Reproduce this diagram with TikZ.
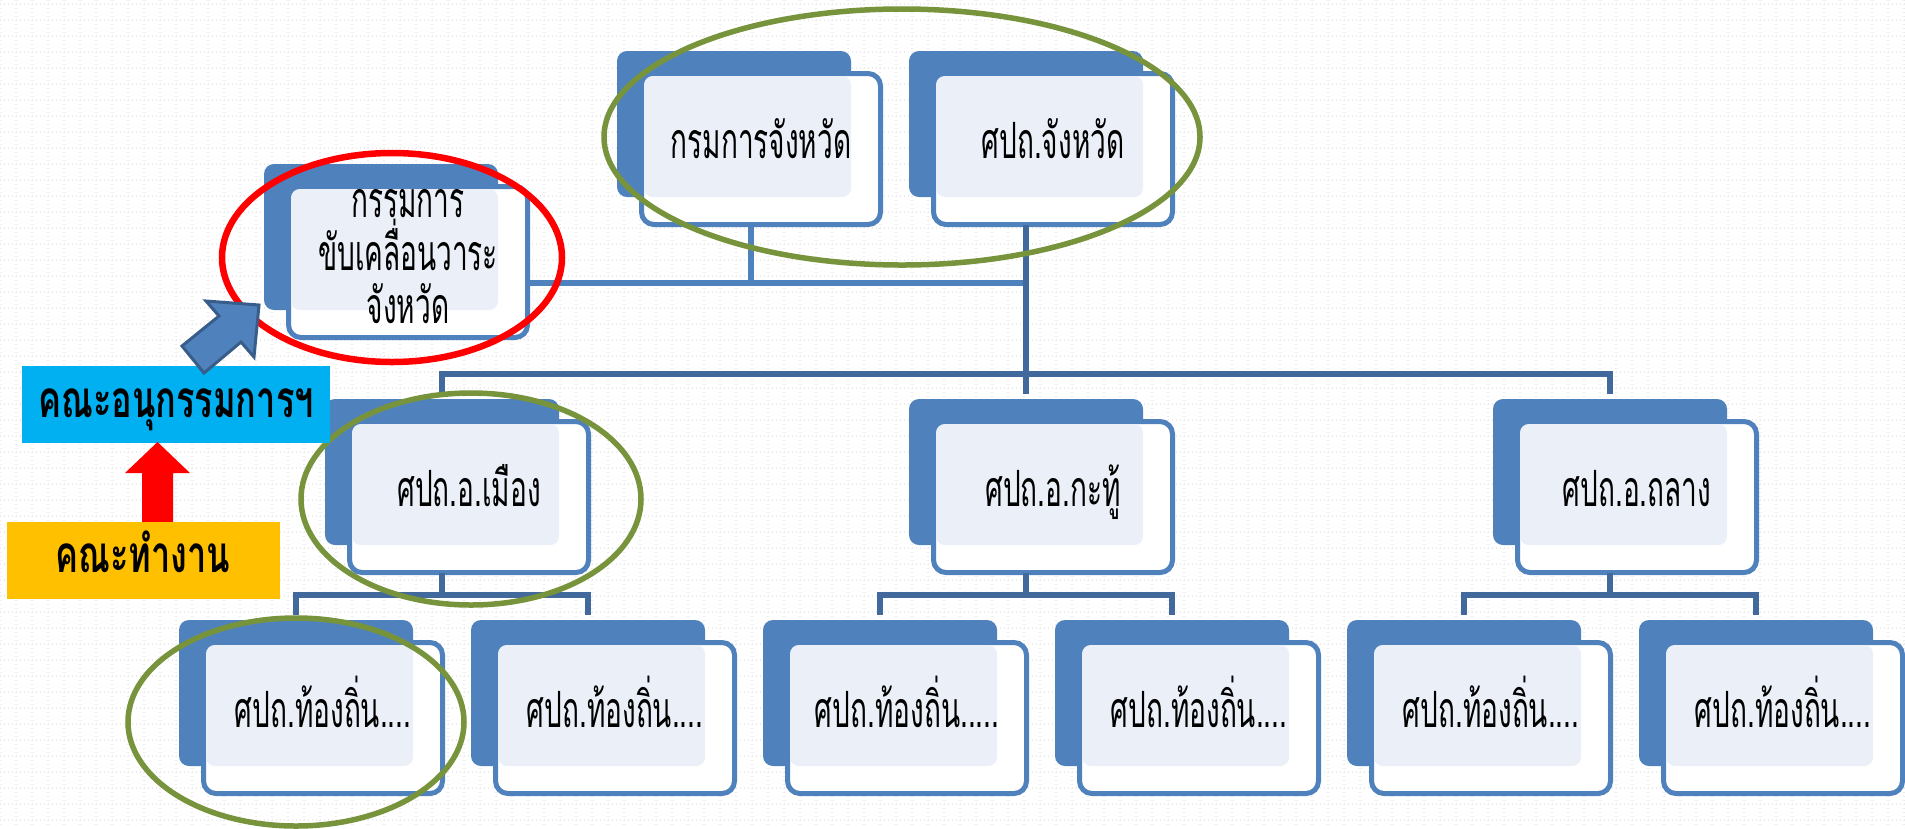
\documentclass[tikz,border=0pt]{standalone}
\usepackage{fontspec}
\usetikzlibrary{calc}
\newfontfamily\thai[Script=Thai,FakeStretch=0.56]{Loma}
\newfontfamily\thaib[Script=Thai,FakeStretch=0.67]{Loma}
\definecolor{boxblue}{HTML}{4F81BD}
\definecolor{paleblue}{HTML}{EBF0F8}
\definecolor{lineA}{HTML}{4F81BD}
\definecolor{lineB}{HTML}{41699B}
\definecolor{olivegreen}{HTML}{77933C}
\definecolor{cyanbox}{HTML}{00B0F0}
\definecolor{yellowbox}{HTML}{FFC000}
\definecolor{arrowedge}{HTML}{385D8A}
\definecolor{griddot}{HTML}{EBEBEB}
\tikzset{
  backbox/.style={fill=boxblue, rounded corners=4pt, minimum width=93.6pt, minimum height=58.4pt, inner sep=0pt, outer sep=0pt, anchor=north west},
  frontbox/.style={draw=boxblue, fill=white, line width=2pt, rounded corners=5pt, minimum width=95.6pt, minimum height=60.4pt, inner sep=0pt, outer sep=0pt, anchor=north west},
  boxtxt/.style={font=\thai\fontsize{20}{22}\selectfont, text=black, inner sep=0pt, anchor=base},
  connA/.style={draw=lineA, line width=2.2pt},
  connB/.style={draw=lineB, line width=2.2pt},
  ring/.style={draw=olivegreen, line width=2.2pt},
  gridline/.style={draw=griddot, line width=0.5pt, dash pattern=on 0.55pt off 1.05pt},
  labelbox/.style={inner sep=0pt, outer sep=0pt, anchor=north west},
  labeltxt/.style={font=\thaib\bfseries\fontsize{20.5}{22}\selectfont, text=black, inner sep=0pt, anchor=base}
}
\newcommand\orgunit[4]{%
  \node[backbox] (#1b) at (#2,#3) {};
  \node[frontbox] (#1f) at ($(#2,#3)+(24.5,22.5)$) {};
  \fill[paleblue, rounded corners=3.5pt] ($(#2,#3)+(27,25)$) rectangle ($(#2,#3)+(234,146)$);
  \node[boxtxt] (#1) at ($(#2,#3)+(144,107)$) {#4};
}
\begin{document}
\begin{tikzpicture}[x=0.4pt,y=-0.4pt]
\useasboundingbox (0,0) rectangle (1905,828);
\fill[white] (0,0) rectangle (1905,828);
% dotted grid
\foreach \i in {0,16,...,1904} \draw[gridline] (\i,0) -- (\i,828);
\foreach \j in {4,20,...,828} \draw[gridline] (0,\j) -- (1905,\j);

% level coordinates
\coordinate (j1) at (751,283);
\coordinate (j2) at (1023,283);
\coordinate (lv2) at (0,374);
\coordinate (lv3) at (0,595);

\orgunit{t1}{617}{51}{กรมการจังหวัด}
\orgunit{t2}{909}{51}{ศปถ.จังหวัด}
\orgunit{cm}{264}{164}{}
\node[boxtxt] (cmA) at (408,217) {กรรมการ};
\node[boxtxt] (cmB) at (408,270) {ขับเคลื่อนวาระ};
\node[boxtxt] (cmC) at (408,323) {จังหวัด};

\orgunit{m1}{325}{399}{ศปถ.อ.เมือง}
\orgunit{m2}{909}{399}{ศปถ.อ.กะทู้}
\orgunit{m3}{1493}{399}{ศปถ.อ.ถลาง}

\orgunit{b1}{179}{620}{ศปถ.ท้องถิ่น....}
\orgunit{b2}{471}{620}{ศปถ.ท้องถิ่น....}
\orgunit{b3}{763}{620}{ศปถ.ท้องถิ่น.....}
\orgunit{b4}{1055}{620}{ศปถ.ท้องถิ่น....}
\orgunit{b5}{1347}{620}{ศปถ.ท้องถิ่น....}
\orgunit{b6}{1639}{620}{ศปถ.ท้องถิ่น....}

% connectors
\draw[connA] (j1 |- t1f.south) -- (j1);
\draw[connA] (cmf.east |- j1) -- (j2);
\draw[connB, shorten >=2pt] (t2b.south |- t2f.south) -- (m2b.north);
\draw[connB, shorten <=2pt, shorten >=2pt] (m1b.north) -- (m1b.north |- lv2) -- (m3b.north |- lv2) -- (m3b.north);
\foreach \m/\c/\d in {m1/b1/b2, m2/b3/b4, m3/b5/b6}{
  \draw[connB] (\m b.south |- \m f.south) -- (\m b.south |- lv3);
  \draw[connB, shorten <=2pt, shorten >=2pt] (\c b.north) -- (\c b.north |- lv3) -- (\d b.north |- lv3) -- (\d b.north);
}

% rings
\draw[ring] (902,137) ellipse [x radius=119.2pt, y radius=51.2pt];
\draw[draw=red, line width=2.6pt] (392,257.5) ellipse [x radius=68pt, y radius=41.8pt];
\draw[ring] (471,499) ellipse [x radius=68pt, y radius=42.4pt];
\draw[ring] (296,722) ellipse [x radius=67.2pt, y radius=41.6pt];

% side labels
\node[labelbox, fill=cyanbox, minimum width=123.2pt, minimum height=30.8pt] (sub) at (22,366) {};
\node[labeltxt] (subt) at (176,417) {คณะอนุกรรมการฯ};
\fill[red] (142,522) -- (142,473) -- (125,473) -- (157.5,442) -- (190,473) -- (173,473) -- (173,522) -- cycle;
\node[labelbox, fill=yellowbox, minimum width=109.2pt, minimum height=30.8pt] (work) at (7,522) {};
\node[labeltxt] (workt) at (143,572) {คณะทำงาน};

% blue block arrow
\filldraw[fill=boxblue, draw=arrowedge, line width=1.2pt, line join=miter]
  (259,305) -- (206,301) -- (219,316) -- (182,346) -- (204,373) -- (241,342) -- (254,357) -- cycle;
\end{tikzpicture}
\end{document}
